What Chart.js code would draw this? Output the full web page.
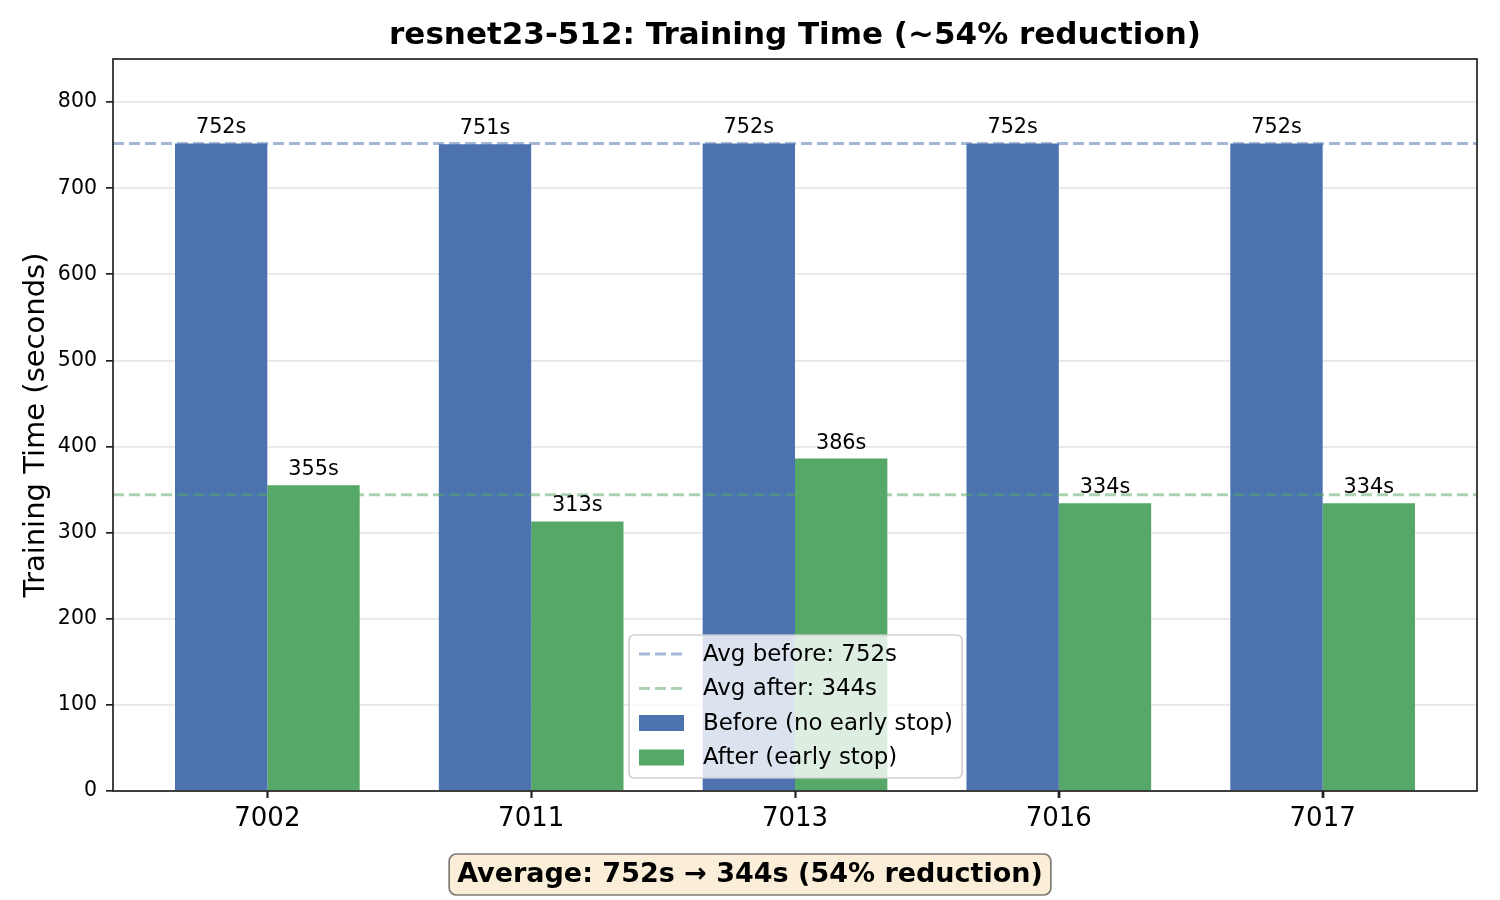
<!DOCTYPE html>
<html>
<head>
<meta charset="utf-8">
<script src="https://cdn.jsdelivr.net/npm/chart.js@4.4.1/dist/chart.umd.min.js"></script>
<style>
  html, body { margin: 0; padding: 0; background: #fff; }
  canvas { display: block; }
</style>
</head>
<body>
<canvas id="timeChart" width="1500" height="900"></canvas>
<script>
const runIds = ['7002', '7011', '7013', '7016', '7017'];
const beforeTimes = [752, 751, 752, 752, 752];
const afterTimes = [355, 313, 386, 334, 334];
const avgBefore = 752;
const avgAfter = 344;
const yTicks = [0, 100, 200, 300, 400, 500, 600, 700, 800];

const titleText = 'resnet23-512: Training Time (~54% reduction)';
const yAxisLabel = 'Training Time (seconds)';
const summaryText = 'Average: 752s \u2192 344s (54% reduction)';

const FONT = '"DejaVu Sans", sans-serif';
const BLUE = '#4C72B0';
const GREEN = '#55A868';
const X_MIN = -0.585;
const X_MAX = 4.585;

const decorations = {
  id: 'decorations',
  afterDatasetsDraw(chart) {
    const ctx = chart.ctx;
    const area = chart.chartArea;

    // value labels over the bars
    ctx.save();
    ctx.font = `20.8px ${FONT}`;
    ctx.fillStyle = '#000';
    ctx.textAlign = 'center';
    ctx.textBaseline = 'bottom';
    [2, 3].forEach(di => {
      const meta = chart.getDatasetMeta(di);
      const values = chart.data.datasets[di].data;
      meta.data.forEach((bar, i) => {
        ctx.fillText(values[i].y + 's', bar.x, bar.y - 5);
      });
    });
    ctx.restore();

    // spines and x tick marks
    ctx.save();
    ctx.strokeStyle = '#222';
    ctx.lineWidth = 1.7;
    ctx.strokeRect(area.left, area.top, area.right - area.left, area.bottom - area.top);
    const xScale = chart.scales.x;
    ctx.beginPath();
    runIds.forEach((_, i) => {
      const px = Math.round(xScale.getPixelForValue(i)) + 0.5;
      ctx.moveTo(px, area.bottom);
      ctx.lineTo(px, area.bottom + 7);
    });
    ctx.stroke();
    ctx.restore();
  },
  afterDraw(chart) {
    const ctx = chart.ctx;
    const area = chart.chartArea;

    // title
    ctx.save();
    ctx.fillStyle = '#000';
    ctx.textAlign = 'center';
    ctx.textBaseline = 'middle';
    ctx.font = `bold 31px ${FONT}`;
    ctx.fillText(titleText, (area.left + area.right) / 2, 36);

    // y axis title
    ctx.translate(36, (area.top + area.bottom) / 2);
    ctx.rotate(-Math.PI / 2);
    ctx.font = `29px ${FONT}`;
    ctx.fillText(yAxisLabel, 0, 0);
    ctx.restore();

    // legend
    const lx = 629, ly = 635, lw = 333, lh = 143;
    ctx.save();
    ctx.fillStyle = 'rgba(255,255,255,0.8)';
    ctx.strokeStyle = 'rgba(204,204,204,0.9)';
    ctx.lineWidth = 1.7;
    roundRect(ctx, lx, ly, lw, lh, 5);
    ctx.fill();
    ctx.stroke();
    ctx.font = `22.9px ${FONT}`;
    ctx.textBaseline = 'middle';
    ctx.textAlign = 'left';
    chart.data.datasets.forEach((ds, i) => {
      const rowY = ly + 19 + i * 34.5;
      if (ds.type === 'line') {
        ctx.strokeStyle = ds.borderColor;
        ctx.lineWidth = 3;
        ctx.setLineDash([11, 5]);
        ctx.beginPath();
        ctx.moveTo(639, rowY);
        ctx.lineTo(684, rowY);
        ctx.stroke();
        ctx.setLineDash([]);
      } else {
        ctx.fillStyle = ds.backgroundColor;
        ctx.fillRect(639, rowY - 8, 45, 16);
      }
      ctx.fillStyle = '#000';
      ctx.fillText(ds.label, 703, rowY + 1);
    });
    ctx.restore();

    // summary box
    ctx.save();
    ctx.font = `bold 27px ${FONT}`;
    const tw = ctx.measureText(summaryText).width;
    const cx = 750, cy = 874;
    ctx.fillStyle = 'rgba(245,222,179,0.5)';
    ctx.strokeStyle = 'rgba(0,0,0,0.5)';
    ctx.lineWidth = 1.7;
    roundRect(ctx, cx - tw / 2 - 8, cy - 20, tw + 16, 41, 7);
    ctx.fill();
    ctx.stroke();
    ctx.fillStyle = '#000';
    ctx.textAlign = 'center';
    ctx.textBaseline = 'middle';
    ctx.fillText(summaryText, cx, cy + 1);
    ctx.restore();
  }
};

function roundRect(ctx, x, y, w, h, r) {
  ctx.beginPath();
  ctx.moveTo(x + r, y);
  ctx.lineTo(x + w - r, y);
  ctx.arcTo(x + w, y, x + w, y + r, r);
  ctx.lineTo(x + w, y + h - r);
  ctx.arcTo(x + w, y + h, x + w - r, y + h, r);
  ctx.lineTo(x + r, y + h);
  ctx.arcTo(x, y + h, x, y + h - r, r);
  ctx.lineTo(x, y + r);
  ctx.arcTo(x, y, x + r, y, r);
  ctx.closePath();
}

const ctx = document.getElementById('timeChart').getContext('2d');

new Chart(ctx, {
  type: 'bar',
  data: {
    datasets: [
      {
        type: 'line',
        label: 'Avg before: ' + avgBefore + 's',
        data: [{ x: X_MIN, y: avgBefore }, { x: X_MAX, y: avgBefore }],
        borderColor: 'rgba(76,114,176,0.5)',
        borderWidth: 3,
        borderDash: [11, 5],
        pointRadius: 0,
        order: 1
      },
      {
        type: 'line',
        label: 'Avg after: ' + avgAfter + 's',
        data: [{ x: X_MIN, y: avgAfter }, { x: X_MAX, y: avgAfter }],
        borderColor: 'rgba(85,168,104,0.5)',
        borderWidth: 3,
        borderDash: [11, 5],
        pointRadius: 0,
        order: 1
      },
      {
        label: 'Before (no early stop)',
        data: beforeTimes.map((v, i) => ({ x: i, y: v })),
        backgroundColor: BLUE,
        categoryPercentage: 0.7,
        barPercentage: 1.0,
        order: 2
      },
      {
        label: 'After (early stop)',
        data: afterTimes.map((v, i) => ({ x: i, y: v })),
        backgroundColor: GREEN,
        categoryPercentage: 0.7,
        barPercentage: 1.0,
        order: 2
      }
    ]
  },
  options: {
    responsive: false,
    animation: false,
    devicePixelRatio: 1,
    layout: { padding: { left: 0, top: 59, right: 23, bottom: 0 } },
    plugins: {
      legend: { display: false },
      title: { display: false },
      tooltip: { enabled: false }
    },
    scales: {
      x: {
        type: 'linear',
        min: X_MIN,
        max: X_MAX,
        offset: false,
        afterBuildTicks: scale => {
          scale.ticks = runIds.map((_, i) => ({ value: i }));
        },
        afterFit: scale => { scale.height = 109; },
        ticks: {
          callback: value => runIds[value],
          font: { family: FONT, size: 26 },
          color: '#000',
          padding: 6,
          maxRotation: 0
        },
        grid: {
          offset: false,
          drawOnChartArea: false,
          tickLength: 7,
          tickColor: '#222',
          tickWidth: 1.7
        },
        border: { display: false }
      },
      y: {
        min: 0,
        max: 850,
        afterBuildTicks: scale => {
          scale.ticks = yTicks.map(v => ({ value: v }));
        },
        afterFit: scale => { scale.width = 113; },
        ticks: {
          font: { family: FONT, size: 20.5 },
          color: '#000',
          padding: 9
        },
        grid: {
          color: 'rgba(176,176,176,0.3)',
          lineWidth: 1.7,
          tickLength: 7,
          tickColor: '#222',
          tickWidth: 1.7
        },
        border: { display: false }
      }
    }
  },
  plugins: [decorations]
});
</script>
</body>
</html>
